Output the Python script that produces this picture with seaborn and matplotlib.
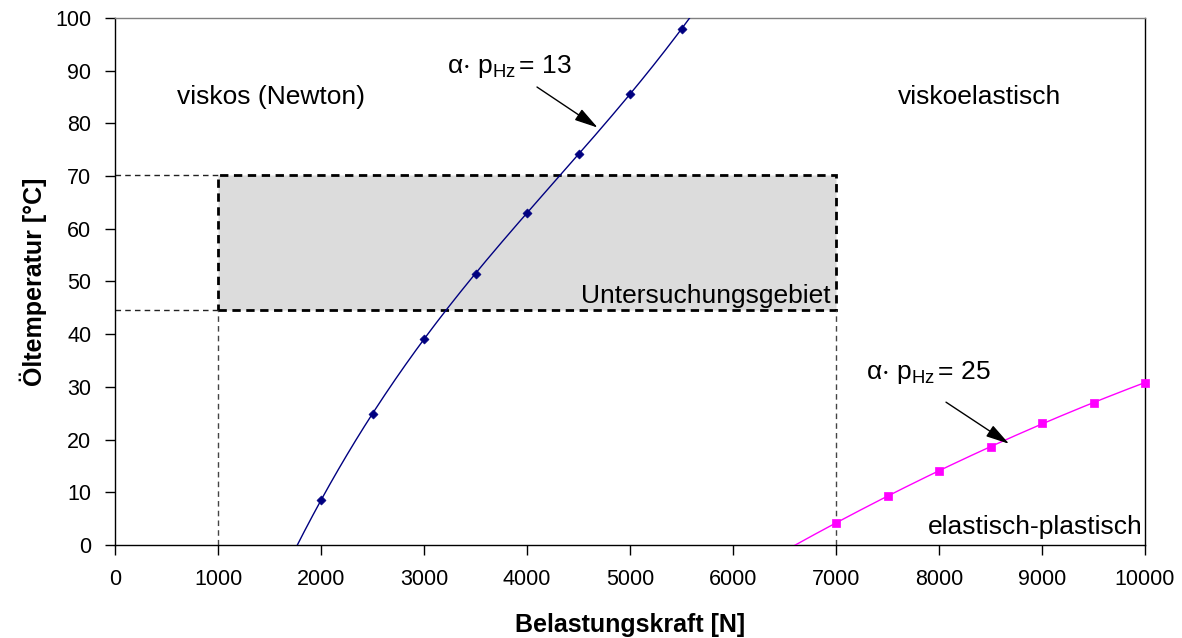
import numpy as np
import pandas as pd
import seaborn as sns
import matplotlib.pyplot as plt
from matplotlib.patches import Rectangle

# ---- data ----
kraft_13 = [2000, 2500, 3000, 3500, 4000, 4500, 5000, 5500]
temp_13 = [8.5, 24.9, 39.1, 51.5, 63.0, 74.1, 85.6, 97.9]
kraft_25 = [7000, 7500, 8000, 8500, 9000, 9500, 10000]
temp_25 = [4.2, 9.3, 14.0, 18.6, 23.1, 27.0, 30.8]
region_x = [1000, 7000]
region_y = [44.6, 70.2]
x_ticks = list(range(0, 10001, 1000))
y_ticks = list(range(0, 101, 10))

sns.set_theme(style="white")
plt.rcParams['font.family'] = ['Liberation Sans', 'DejaVu Sans']
plt.rcParams['mathtext.fontset'] = 'custom'
plt.rcParams['mathtext.rm'] = 'Liberation Sans'
plt.rcParams['mathtext.it'] = 'Liberation Sans:italic'
plt.rcParams['text.color'] = 'black'
plt.rcParams['axes.labelcolor'] = 'black'
plt.rcParams['xtick.color'] = 'black'
plt.rcParams['ytick.color'] = 'black'

fig = plt.figure(figsize=(11.82, 6.38), dpi=100)
ax = fig.add_axes([0.0973, 0.1458, 0.8714, 0.826])

# shaded investigation region
ax.add_patch(Rectangle((region_x[0], region_y[0]), region_x[1] - region_x[0],
                       region_y[1] - region_y[0], facecolor='#dcdcdc',
                       edgecolor='black', lw=2, ls=(0, (3, 2)), zorder=1))
# guide lines
for yv in region_y:
    ax.plot([0, region_x[0]], [yv, yv], ls=(0, (4, 3)), lw=1, color='#222222', zorder=1)
for xv in region_x:
    ax.plot([xv, xv], [0, region_y[0]], ls=(0, (4, 3)), lw=1, color='#444444', zorder=1)

# trend curves (fits through the data)
xs = np.linspace(0, 10000, 600)
c13 = np.polyfit(kraft_13, temp_13, 3)
c25 = np.polyfit(kraft_25, temp_25, 2)
fit = pd.DataFrame({'x': xs, 'y13': np.polyval(c13, xs), 'y25': np.polyval(c25, xs)})
sns.lineplot(data=fit, x='x', y='y13', ax=ax, color='#000080', lw=1, zorder=3)
sns.lineplot(data=fit, x='x', y='y25', ax=ax, color='#ff00ff', lw=1, zorder=3)

d13 = pd.DataFrame({'x': kraft_13, 'y': temp_13})
d25 = pd.DataFrame({'x': kraft_25, 'y': temp_25})
sns.scatterplot(data=d13, x='x', y='y', ax=ax, marker='D', s=22, color='#000080',
                edgecolor='#000080', zorder=4, clip_on=False)
sns.scatterplot(data=d25, x='x', y='y', ax=ax, marker='s', s=40, color='#ff00ff',
                edgecolor='#ff00ff', zorder=4, clip_on=False)

ax.set_xlim(0, 10000)
ax.set_ylim(0, 100)
ax.set_xticks(x_ticks)
ax.set_yticks(y_ticks)
ax.tick_params(direction='out', length=7, width=1, color='black', labelsize=15.5,
               bottom=True, left=True, pad=10)
for s in ['left', 'bottom', 'right']:
    ax.spines[s].set_color('black')
    ax.spines[s].set_linewidth(1)
ax.spines['top'].set_color('#808080')
ax.spines['top'].set_linewidth(1)

ax.set_xlabel('Belastungskraft [N]', fontsize=18, fontweight='bold', labelpad=17)
ax.set_ylabel('Öltemperatur [°C]', fontsize=18, fontweight='bold', labelpad=6)

# annotations
ax.text(600, 85.0, 'viskos (Newton)', fontsize=19, va='center', ha='left')
ax.text(7600, 85.0, 'viskoelastisch', fontsize=19, va='center', ha='left')
ax.text(9980, 3.4, 'elastisch-plastisch', fontsize=19, va='center', ha='right')
ax.text(6950, 47.3, 'Untersuchungsgebiet', fontsize=19, va='center', ha='right', zorder=5)

ax.text(3220, 90.8, r'$\mathregular{\alpha{\cdot}}$ p$_\mathregular{Hz}$$\,$= 13',
        fontsize=19, va='center', ha='left')
ax.text(7290, 32.8, r'$\mathregular{\alpha{\cdot}}$ p$_\mathregular{Hz}$$\,$= 25',
        fontsize=19, va='center', ha='left')
arrow = dict(arrowstyle='-|>,head_length=0.8,head_width=0.22', color='black', lw=1,
             mutation_scale=18, shrinkA=0, shrinkB=0)
ax.annotate('', xy=(4686, 79.2), xytext=(4097, 86.9), arrowprops=arrow)
ax.annotate('', xy=(8680, 19.2), xytext=(8068, 27.1), arrowprops=arrow)

fig.savefig('out.png', dpi=100)
